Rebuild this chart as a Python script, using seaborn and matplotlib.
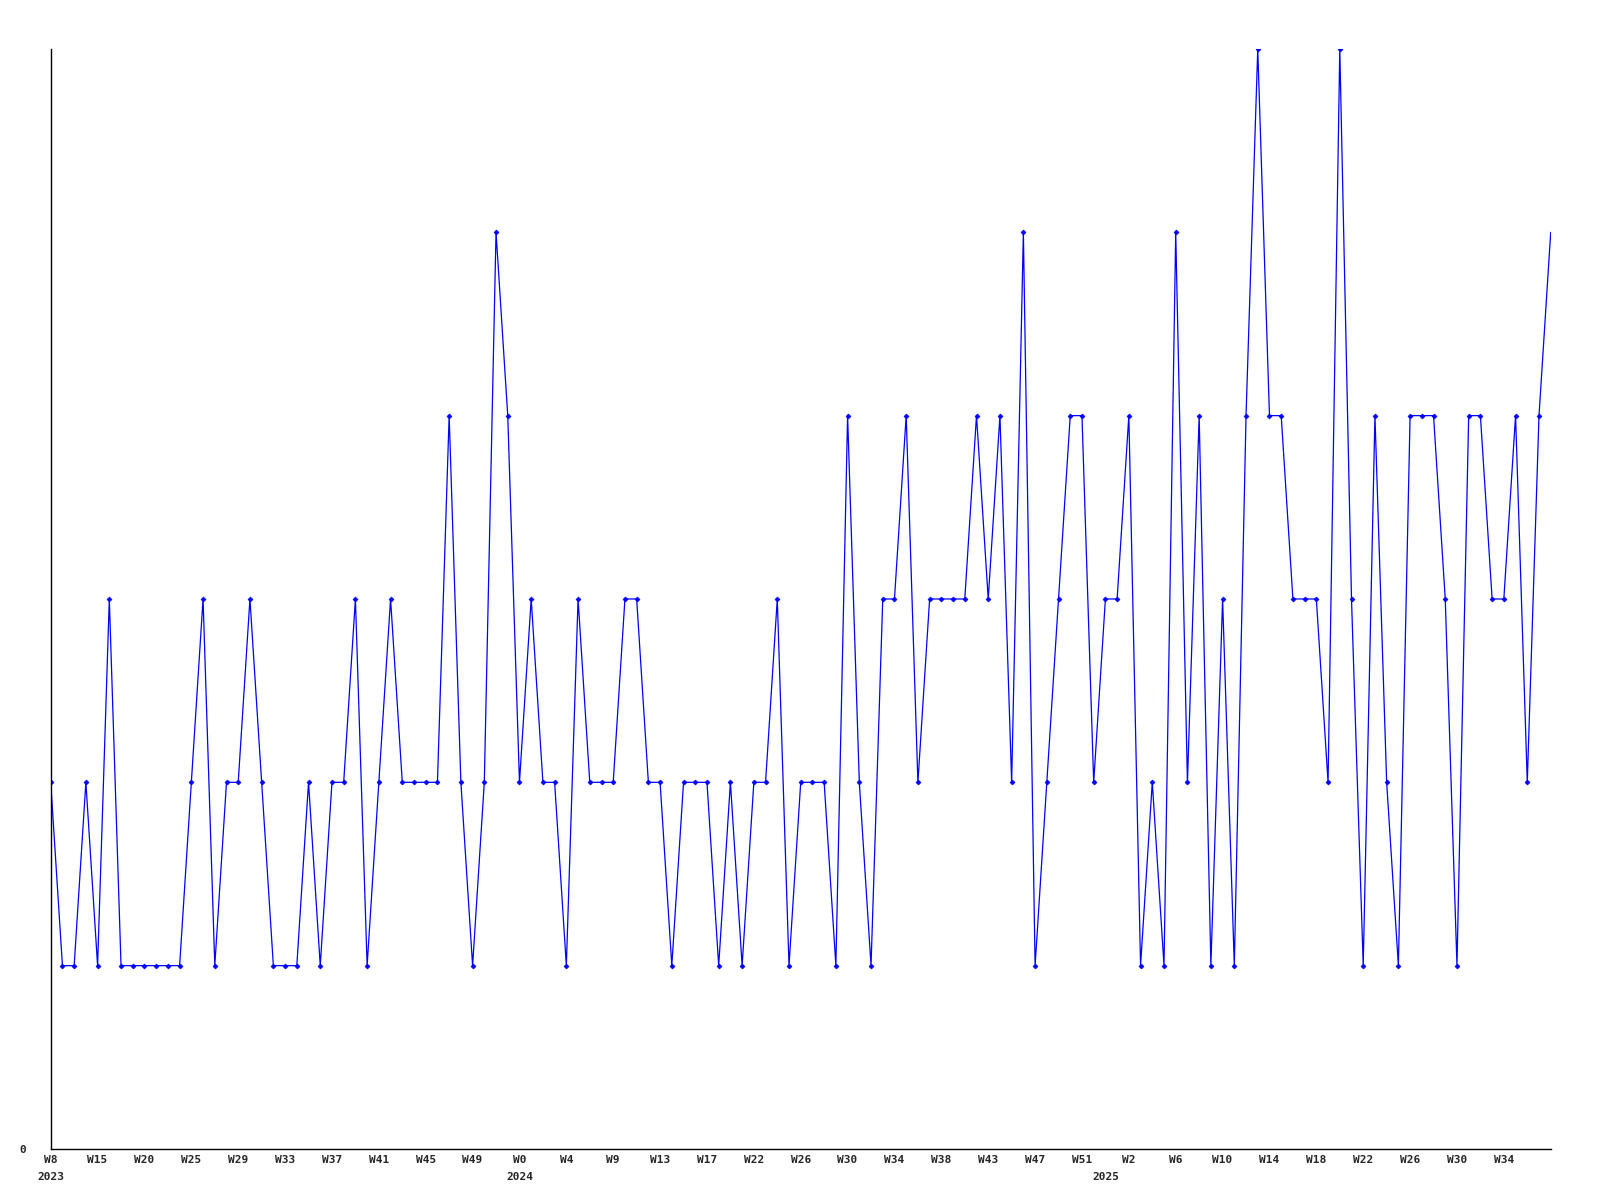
import matplotlib
matplotlib.use('Agg')
import matplotlib.pyplot as plt
import seaborn as sns

# weekly values
values = [2, 1, 1, 2, 1, 3, 1, 1, 1, 1, 1, 1, 2, 3, 1, 2, 2, 3, 2, 1,
          1, 1, 2, 1, 2, 2, 3, 1, 2, 3, 2, 2, 2, 2, 4, 2, 1, 2, 5, 4,
          2, 3, 2, 2, 1, 3, 2, 2, 2, 3, 3, 2, 2, 1, 2, 2, 2, 1, 2, 1,
          2, 2, 3, 1, 2, 2, 2, 1, 4, 2, 1, 3, 3, 4, 2, 3, 3, 3, 3, 4,
          3, 4, 2, 5, 1, 2, 3, 4, 4, 2, 3, 3, 4, 1, 2, 1, 5, 2, 4, 1,
          3, 1, 4, 6, 4, 4, 3, 3, 3, 2, 6, 3, 1, 4, 2, 1, 4, 4, 4, 3,
          1, 4, 4, 3, 3, 4, 2, 4, 5]

week_labels = ['W8', 'W15', 'W20', 'W25', 'W29', 'W33', 'W37', 'W41', 'W45', 'W49',
               'W0', 'W4', 'W9', 'W13', 'W17', 'W22', 'W26', 'W30', 'W34', 'W38',
               'W43', 'W47', 'W51', 'W2', 'W6', 'W10', 'W14', 'W18', 'W22', 'W26',
               'W30', 'W34']
years = ['2023', '2024', '2025']
year_pos = [0, 40, 90]

sns.set_style('white')
plt.rcParams['font.family'] = ['DejaVu Sans Mono']
plt.rcParams['font.weight'] = 'bold'

fig = plt.figure(figsize=(16, 12), dpi=100)
ax = fig.add_axes([0.0317, 0.0425, 0.9375, 0.9167])

x = list(range(len(values)))
sns.lineplot(x=x, y=values, ax=ax, color='#0000ff', linewidth=0.9,
             marker='D', markersize=2.5, markeredgewidth=0.5,
             markeredgecolor='#0000ff', markevery=list(range(len(values) - 1)))

ax.set_xlim(0, len(values) - 1)
ax.set_ylim(0, 6)

ax.set_xticks(list(range(0, 4 * len(week_labels), 4)))
ax.set_xticklabels(week_labels, fontsize=8, fontweight='bold')
ax.set_yticks([0])
ax.set_yticklabels(['0'], fontsize=8, fontweight='bold')
ax.tick_params(axis='x', length=0, pad=4)
ax.tick_params(axis='y', length=0, pad=18)

for yr, pos in zip(years, year_pos):
    ax.annotate(yr, xy=(pos, 0), xycoords=('data', 'axes fraction'),
                xytext=(0, -28), textcoords='offset pixels',
                ha='center', va='center', fontsize=8, fontweight='bold')

for side in ['top', 'right']:
    ax.spines[side].set_visible(False)
for side in ['left', 'bottom']:
    ax.spines[side].set_color('black')
    ax.spines[side].set_linewidth(1)

ax.set_xlabel('')
ax.set_ylabel('')

fig.savefig('out.png', dpi=100)
